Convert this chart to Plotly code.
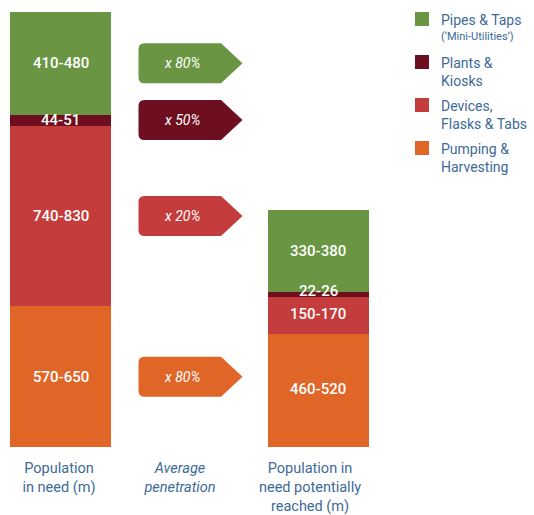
import plotly.graph_objects as go

# Segments listed bottom to top of each stacked column
segments = ["Pumping & Harvesting", "Devices, Flasks & Tabs", "Plants & Kiosks", "Pipes & Taps"]
need_low = [570, 740, 44, 410]
need_high = [650, 830, 51, 480]
reached_low = [460, 150, 22, 330]
reached_high = [520, 170, 26, 380]
penetration = [80, 20, 50, 80]
colors = ["#e06627", "#c43c3b", "#6d0f1e", "#6a9643"]

# Legend entries, top to bottom
legend_lines = [
    ("Pipes & Taps", "(‘Mini-Utilities’)"),
    ("Plants &<br>Kiosks", None),
    ("Devices,<br>Flasks & Tabs", None),
    ("Pumping &<br>Harvesting", None),
]
legend_colors = ["#6a9643", "#6d0f1e", "#c43c3b", "#e06627"]

column_labels = [
    "Population<br>in need (m)",
    "<i>Average</i><br><i>penetration</i>",
    "Population in<br>need potentially<br>reached (m)",
]

# ---- layout geometry ----
W, H = 534, 515
PLOT_H = 447            # plot area height in px (bars stand on its bottom edge)
Y_MAX = 1940            # y-axis range top (millions)
PPU = PLOT_H / Y_MAX    # px per unit on the y axis
X_NEED, X_REACHED = 60.5, 318
BAR_W = 101
TICK_X = [59, 180, 310]
TEXT_BLUE = "#3d6a96"
FONT = "Roboto"

need_mid = [(a + b) / 2 for a, b in zip(need_low, need_high)]
reached_mid = [(a + b) / 2 for a, b in zip(reached_low, reached_high)]

fig = go.Figure()
for i, name in enumerate(segments):
    fig.add_trace(go.Bar(
        x=[X_NEED, X_REACHED], y=[need_mid[i], reached_mid[i]],
        width=BAR_W, name=name, marker=dict(color=colors[i], line=dict(width=0)),
        showlegend=False, hoverinfo="skip",
    ))

annotations = []
shapes = []

# value labels centred in each segment
label_shift = [0, 0, 0, 0]
reached_shift = [2, 2, 3, 0]
cum_n, cum_r = 0.0, 0.0
for i in range(len(segments)):
    yc_n = cum_n + need_mid[i] / 2
    yc_r = cum_r + reached_mid[i] / 2
    for x, yc, lo, hi, ys in ((X_NEED, yc_n, need_low[i], need_high[i], label_shift[i]),
                              (X_REACHED, yc_r, reached_low[i], reached_high[i], reached_shift[i])):
        annotations.append(dict(
            x=x, y=yc, xref="x", yref="y", text=f"{lo}-{hi}", showarrow=False,
            xanchor="center", yanchor="middle", yshift=ys,
            font=dict(family=FONT, size=15, color="white", weight=500),
        ))

    # penetration arrow tag beside the segment of the first column
    x0, xb, xt = 138.5, 221, 242.5
    hu = 20 / PPU
    r, ry = 6, 6 / PPU
    top, bot = yc_n + hu, yc_n - hu
    path = (f"M{x0 + r},{top} L{xb},{top} L{xt},{yc_n} L{xb},{bot} L{x0 + r},{bot} "
            f"Q{x0},{bot} {x0},{bot + ry} L{x0},{top - ry} Q{x0},{top} {x0 + r},{top} Z")
    shapes.append(dict(type="path", path=path, xref="x", yref="y",
                       fillcolor=colors[i], line=dict(width=0), layer="above"))
    annotations.append(dict(
        x=182, y=yc_n, xref="x", yref="y", text=f"x {penetration[i]}%", showarrow=False,
        xanchor="center", yanchor="middle",
        font=dict(family=FONT, size=14, color="white", style="italic"),
    ))
    cum_n += need_mid[i]
    cum_r += reached_mid[i]


def px_x(px):
    return px / W


def px_y(py):
    return 1 - py / PLOT_H


# legend drawn as colour chips with text
for k, ((main, note), col) in enumerate(zip(legend_lines, legend_colors)):
    top = 12 + k * 43
    shapes.append(dict(type="rect", xref="paper", yref="paper",
                       x0=px_x(415), x1=px_x(429), y0=px_y(top), y1=px_y(top + 14),
                       fillcolor=col, line=dict(width=0)))
    annotations.append(dict(
        x=px_x(439), y=px_y(top - 2), xref="paper", yref="paper", text=main,
        showarrow=False, xanchor="left", yanchor="top", align="left",
        font=dict(family=FONT, size=14, color=TEXT_BLUE),
    ))
    if note:
        annotations.append(dict(
            x=px_x(439), y=px_y(top + 16), xref="paper", yref="paper", text=note,
            showarrow=False, xanchor="left", yanchor="top", align="left",
            font=dict(family=FONT, size=11, color=TEXT_BLUE),
        ))

fig.update_layout(
    width=W, height=H,
    margin=dict(l=0, r=0, t=0, b=H - PLOT_H, pad=0),
    barmode="stack", bargap=0,
    paper_bgcolor="white", plot_bgcolor="white",
    showlegend=False,
    shapes=shapes, annotations=annotations,
    xaxis=dict(range=[0, W], tickmode="array", tickvals=TICK_X, ticktext=column_labels,
               showgrid=False, zeroline=False, showline=False,
               ticks="outside", ticklen=8, tickcolor="rgba(0,0,0,0)",
               tickfont=dict(family=FONT, size=14.5, color=TEXT_BLUE),
               automargin=False, fixedrange=True),
    yaxis=dict(range=[0, Y_MAX], visible=False, fixedrange=True),
)

fig.write_html("out.html", config={"displayModeBar": False})
